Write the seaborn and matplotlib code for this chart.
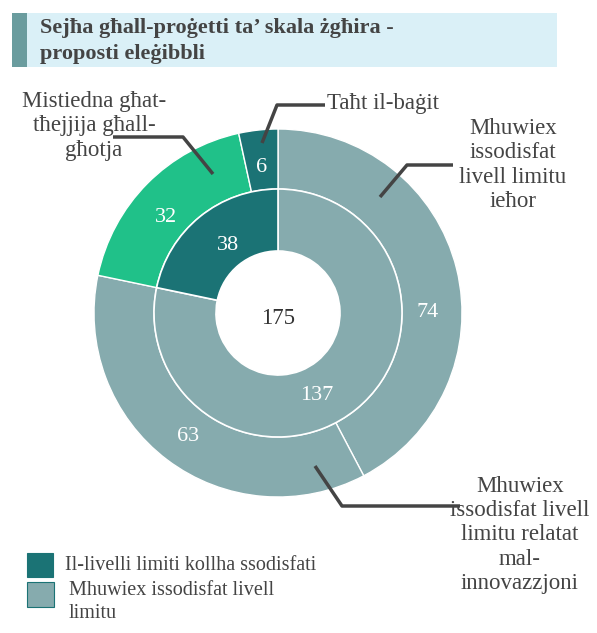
import numpy as np
import matplotlib
matplotlib.use("Agg")
import matplotlib.pyplot as plt
import seaborn as sns
from matplotlib.patches import Rectangle

# ---- data ----
title = "Sejħa għall-proġetti ta’ skala żgħira -\nproposti eleġibbli"
inner_labels = ["Mhuwiex issodisfat livell limitu", "Il-livelli limiti kollha ssodisfati"]
inner_values = [137, 38]
outer_labels = ["Mhuwiex\nissodisfat\nlivell limitu\nieħor",
                "Mhuwiex\nissodisfat livell\nlimitu relatat\nmal-\ninnovazzjoni",
                "Mistiedna għat-\ntħejjija għall-\ngħotja",
                "Taħt il-baġit"]
outer_values = [74, 63, 32, 6]
legend_labels = ["Il-livelli limiti kollha ssodisfati", "Mhuwiex issodisfat livell\nlimitu"]

# ---- style ----
DARK = "#1b7375"
GREY = "#86abae"
GREEN = "#20c189"
TXT = "#444444"
inner_colors = [GREY, DARK]
outer_colors = [GREY, GREY, GREEN, DARK]

sns.set_theme(style="white")
plt.rcParams["font.family"] = ["Liberation Serif", "DejaVu Serif"]

W, H = 597, 633
fig = plt.figure(figsize=(W / 100, H / 100), dpi=100)
ax = fig.add_axes([0, 0, 1, 1])

def Y(y):
    return H - y

cx, cy = 278, Y(313)
R_out, w_out = 184, 60
R_in, w_in = 124, 62

ax.pie(outer_values, radius=R_out, center=(cx, cy), startangle=90, counterclock=False,
       colors=outer_colors, wedgeprops=dict(width=w_out, edgecolor="white", linewidth=1))
ax.pie(inner_values, radius=R_in, center=(cx, cy), startangle=90, counterclock=False,
       colors=inner_colors, wedgeprops=dict(width=w_in, edgecolor="white", linewidth=1.2))

def value_labels(values, r, nudges, dy=-4):
    total = sum(values)
    start = 90.0
    for v, nd in zip(values, nudges):
        span = v / total * 360
        mid = np.deg2rad(start - span / 2 + nd)
        ax.text(cx + r * np.cos(mid), cy + r * np.sin(mid) + dy, f"{v}", color="white",
                fontsize=16, ha="center", va="center")
        start -= span

value_labels(outer_values, 150, [-12, 0, 3, 0])
value_labels(inner_values, 87, [-13, -4])
ax.text(cx, cy - 6, f"{sum(inner_values)}", color="#333333", fontsize=16.5, ha="center", va="center")

# ---- leader lines & category labels ----
LW = 2.5
def leader(pts, text, tx, ty, ha="center", va="center"):
    xs = [p[0] for p in pts]
    ys = [Y(p[1]) for p in pts]
    ax.plot(xs, ys, color=TXT, lw=LW, solid_capstyle="butt")
    ax.text(tx, Y(ty), text, color=TXT, fontsize=16.5, ha=ha, va=va, linespacing=1.2)

leader([(262, 143), (277, 105), (325, 105)], outer_labels[3], 327, 104, ha="left")
leader([(213, 174), (183, 137), (113, 137)], outer_labels[2], 94, 126)
leader([(380, 197), (407, 165), (453, 165)], outer_labels[0], 513, 165)
leader([(315, 466), (342, 506), (460, 506)], outer_labels[1], 520, 535)

# ---- title box ----
ax.add_patch(Rectangle((12, Y(67)), 545, 54, facecolor="#daf0f7", edgecolor="none"))
ax.add_patch(Rectangle((12, Y(67)), 15, 54, facecolor="#6a9c9e", edgecolor="none"))
ax.text(40, Y(41), title, color=TXT, fontsize=16, fontweight="bold", ha="left", va="center",
        linespacing=1.35)

# ---- legend ----
leg_colors = [DARK, GREY]
ax.add_patch(Rectangle((27, Y(577)), 26, 24, facecolor=leg_colors[0], edgecolor=DARK, lw=0.8))
ax.add_patch(Rectangle((27, Y(607)), 27, 25, facecolor=leg_colors[1], edgecolor=DARK, lw=0.8))
ax.text(65, Y(565), legend_labels[0], color=TXT, fontsize=14.5, ha="left", va="center")
ax.text(69, Y(581), legend_labels[1], color=TXT, fontsize=14.5, ha="left", va="top",
        linespacing=1.3)

ax.set_xlim(0, W)
ax.set_ylim(0, H)
ax.set_aspect("equal")
ax.axis("off")
fig.savefig("out.png", dpi=100)
